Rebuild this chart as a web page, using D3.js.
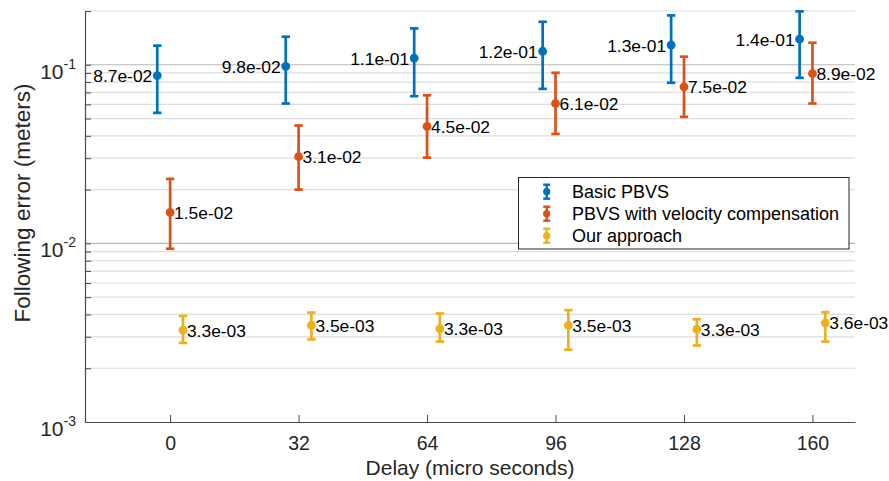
<!DOCTYPE html>
<html>
<head>
<meta charset="utf-8">
<script src="https://cdn.jsdelivr.net/npm/d3@7/dist/d3.min.js"></script>
<style>
  html, body { margin: 0; padding: 0; background: #fff; }
  svg { display: block; font-family: "Liberation Sans", Arial, Helvetica, sans-serif; }
</style>
</head>
<body>
<svg id="chart" width="889" height="481"></svg>
<script>
// ---- Data ----
const delays = [0, 32, 64, 96, 128, 160];

const seriesNames = ["Basic PBVS", "PBVS with velocity compensation", "Our approach"];

const basicMean = [0.087, 0.098, 0.109, 0.119, 0.129, 0.139];
const basicLow  = [0.0538, 0.0607, 0.0667, 0.0733, 0.0793, 0.0845];
const basicHigh = [0.128, 0.1436, 0.1598, 0.174, 0.189, 0.199];

const compMean = [0.0149, 0.0306, 0.0452, 0.0607, 0.0753, 0.0892];
const compLow  = [0.00933, 0.0200, 0.0302, 0.0410, 0.0511, 0.0607];
const compHigh = [0.02296, 0.0457, 0.0675, 0.0902, 0.111, 0.1328];

const oursMean = [0.00327, 0.00348, 0.00332, 0.00347, 0.00331, 0.00359];
const oursLow  = [0.00277, 0.00290, 0.00282, 0.00254, 0.00268, 0.00282];
const oursHigh = [0.00393, 0.00410, 0.00405, 0.00423, 0.00376, 0.00412];

const yMajorTicks = [1e-3, 1e-2, 1e-1];
const yMajorExp = ["-3", "-2", "-1"];

(function () {
// ---- Layout ----
const pLeft = 85, pRight = 855, pTop = 11, pBottom = 422;
const svg = d3.select("#chart");
const x = d3.scaleLinear().domain([-21.2, 170.6]).range([pLeft, pRight]);
const y = d3.scaleLog().domain([1e-3, 0.2]).range([pBottom, pTop]);

const colors = ["#0072BD", "#D95319", "#EDB120"];
const offsets = [-3.2, 0, 3.2];
const textColor = "#262626";

// minor ticks
const minorTicks = [];
[1e-3, 1e-2, 1e-1].forEach(dec => {
  for (let m = 2; m <= 9; m++) {
    const v = m * dec;
    if (v <= 0.2 + 1e-9) minorTicks.push(v);
  }
});

// ---- Grid ----
const grid = svg.append("g");
grid.selectAll("line.minor").data(minorTicks).enter().append("line")
  .attr("x1", pLeft).attr("x2", pRight)
  .attr("y1", d => y(d)).attr("y2", d => y(d))
  .attr("stroke", "#dedede").attr("stroke-width", 1.2);
grid.selectAll("line.major").data(yMajorTicks.slice(1)).enter().append("line")
  .attr("x1", pLeft).attr("x2", pRight)
  .attr("y1", d => y(d)).attr("y2", d => y(d))
  .attr("stroke", "#b8b8b8").attr("stroke-width", 1.2);

// ---- Axes ----
const xAxis = svg.append("g").attr("transform", `translate(0,${pBottom})`)
  .call(d3.axisBottom(x).tickValues(delays).tickSizeInner(-7).tickSizeOuter(0).tickFormat(d3.format("d")));
xAxis.select(".domain").attr("stroke", "#4a4a4a").attr("stroke-width", 1.2);
xAxis.selectAll(".tick line").attr("stroke", "#4a4a4a").attr("stroke-width", 1);
xAxis.selectAll(".tick text")
  .attr("y", 28).attr("dy", 0)
  .attr("font-size", 19.5).attr("fill", textColor)
  .attr("font-family", "Liberation Sans, Arial, sans-serif");

const yAxis = svg.append("g").attr("transform", `translate(${pLeft},0)`)
  .call(d3.axisLeft(y).tickValues(yMajorTicks.concat(minorTicks)).tickSizeInner(-6).tickSizeOuter(0).tickFormat(""));
yAxis.select(".domain").attr("stroke", "#4a4a4a").attr("stroke-width", 1.2);
yAxis.selectAll(".tick line").attr("stroke", "#4a4a4a").attr("stroke-width", 1);
yAxis.selectAll(".tick text").remove();

const yLab = svg.append("g");
yMajorTicks.forEach((v, i) => {
  const t = yLab.append("text")
    .attr("x", 76).attr("y", y(v) + 14)
    .attr("text-anchor", "end")
    .attr("fill", textColor).attr("font-size", 21);
  t.append("tspan").text("10");
  t.append("tspan").attr("font-size", 14).attr("dy", -10).text(yMajorExp[i]);
});

// axis labels
svg.append("text")
  .attr("x", (pLeft + pRight) / 2).attr("y", 475)
  .attr("text-anchor", "middle").attr("font-size", 21).attr("fill", textColor)
  .text("Delay (micro seconds)");
svg.append("text")
  .attr("transform", `translate(30,${203}) rotate(-90)`)
  .attr("text-anchor", "middle").attr("font-size", 22.5).attr("fill", textColor)
  .text("Following error (meters)");

// ---- Data marks ----
function fmt(v) {
  const s = v.toExponential(1);
  const m = s.split("e");
  const e = parseInt(m[1], 10);
  const sign = e < 0 ? "-" : "+";
  const ab = Math.abs(e);
  return m[0] + "e" + sign + (ab < 10 ? "0" + ab : "" + ab);
}

const series = [
  { mean: basicMean, low: basicLow, high: basicHigh },
  { mean: compMean, low: compLow, high: compHigh },
  { mean: oursMean, low: oursLow, high: oursHigh }
];

const marks = svg.append("g");
series.forEach((s, si) => {
  const g = marks.append("g");
  const data = delays.map((d, i) => ({ d, m: s.mean[i], lo: s.low[i], hi: s.high[i] }));
  const cx = p => x(p.d + offsets[si]);
  g.selectAll("line.v").data(data).enter().append("line")
    .attr("x1", cx).attr("x2", cx)
    .attr("y1", p => y(p.lo)).attr("y2", p => y(p.hi))
    .attr("stroke", colors[si]).attr("stroke-width", 2.7);
  ["lo", "hi"].forEach(k => {
    g.selectAll("line.c" + k).data(data).enter().append("line")
      .attr("x1", p => cx(p) - 4.2).attr("x2", p => cx(p) + 4.2)
      .attr("y1", p => y(p[k])).attr("y2", p => y(p[k]))
      .attr("stroke", colors[si]).attr("stroke-width", 2.7);
  });
  g.selectAll("circle").data(data).enter().append("circle")
    .attr("cx", cx).attr("cy", p => y(p.m)).attr("r", 4.4)
    .attr("fill", colors[si]);
  g.selectAll("text").data(data).enter().append("text")
    .attr("x", p => si === 0 ? cx(p) - 5 : cx(p) + 4)
    .attr("y", p => y(p.m) + 6.5)
    .attr("text-anchor", si === 0 ? "end" : "start")
    .attr("font-size", 17.4).attr("fill", "#000")
    .text(p => fmt(p.m));
});

// ---- Legend ----
const lg = svg.append("g");
lg.append("rect").attr("x", 518.5).attr("y", 177.5).attr("width", 330.5).attr("height", 71.5)
  .attr("fill", "#fff").attr("stroke", "#262626").attr("stroke-width", 1);
seriesNames.forEach((name, i) => {
  const cy = 191.7 + i * 22;
  const ix = 546.7;
  lg.append("line").attr("x1", ix).attr("x2", ix).attr("y1", cy - 7).attr("y2", cy + 7)
    .attr("stroke", colors[i]).attr("stroke-width", 2.4);
  [cy - 7, cy + 7].forEach(yy => lg.append("line")
    .attr("x1", ix - 3.5).attr("x2", ix + 3.5).attr("y1", yy).attr("y2", yy)
    .attr("stroke", colors[i]).attr("stroke-width", 2.4));
  lg.append("circle").attr("cx", ix).attr("cy", cy).attr("r", 3.6).attr("fill", colors[i]);
  lg.append("text").attr("x", 572).attr("y", cy + 6.5)
    .attr("font-size", 18).attr("fill", "#000").text(name);
});
})();
</script>
</body>
</html>
